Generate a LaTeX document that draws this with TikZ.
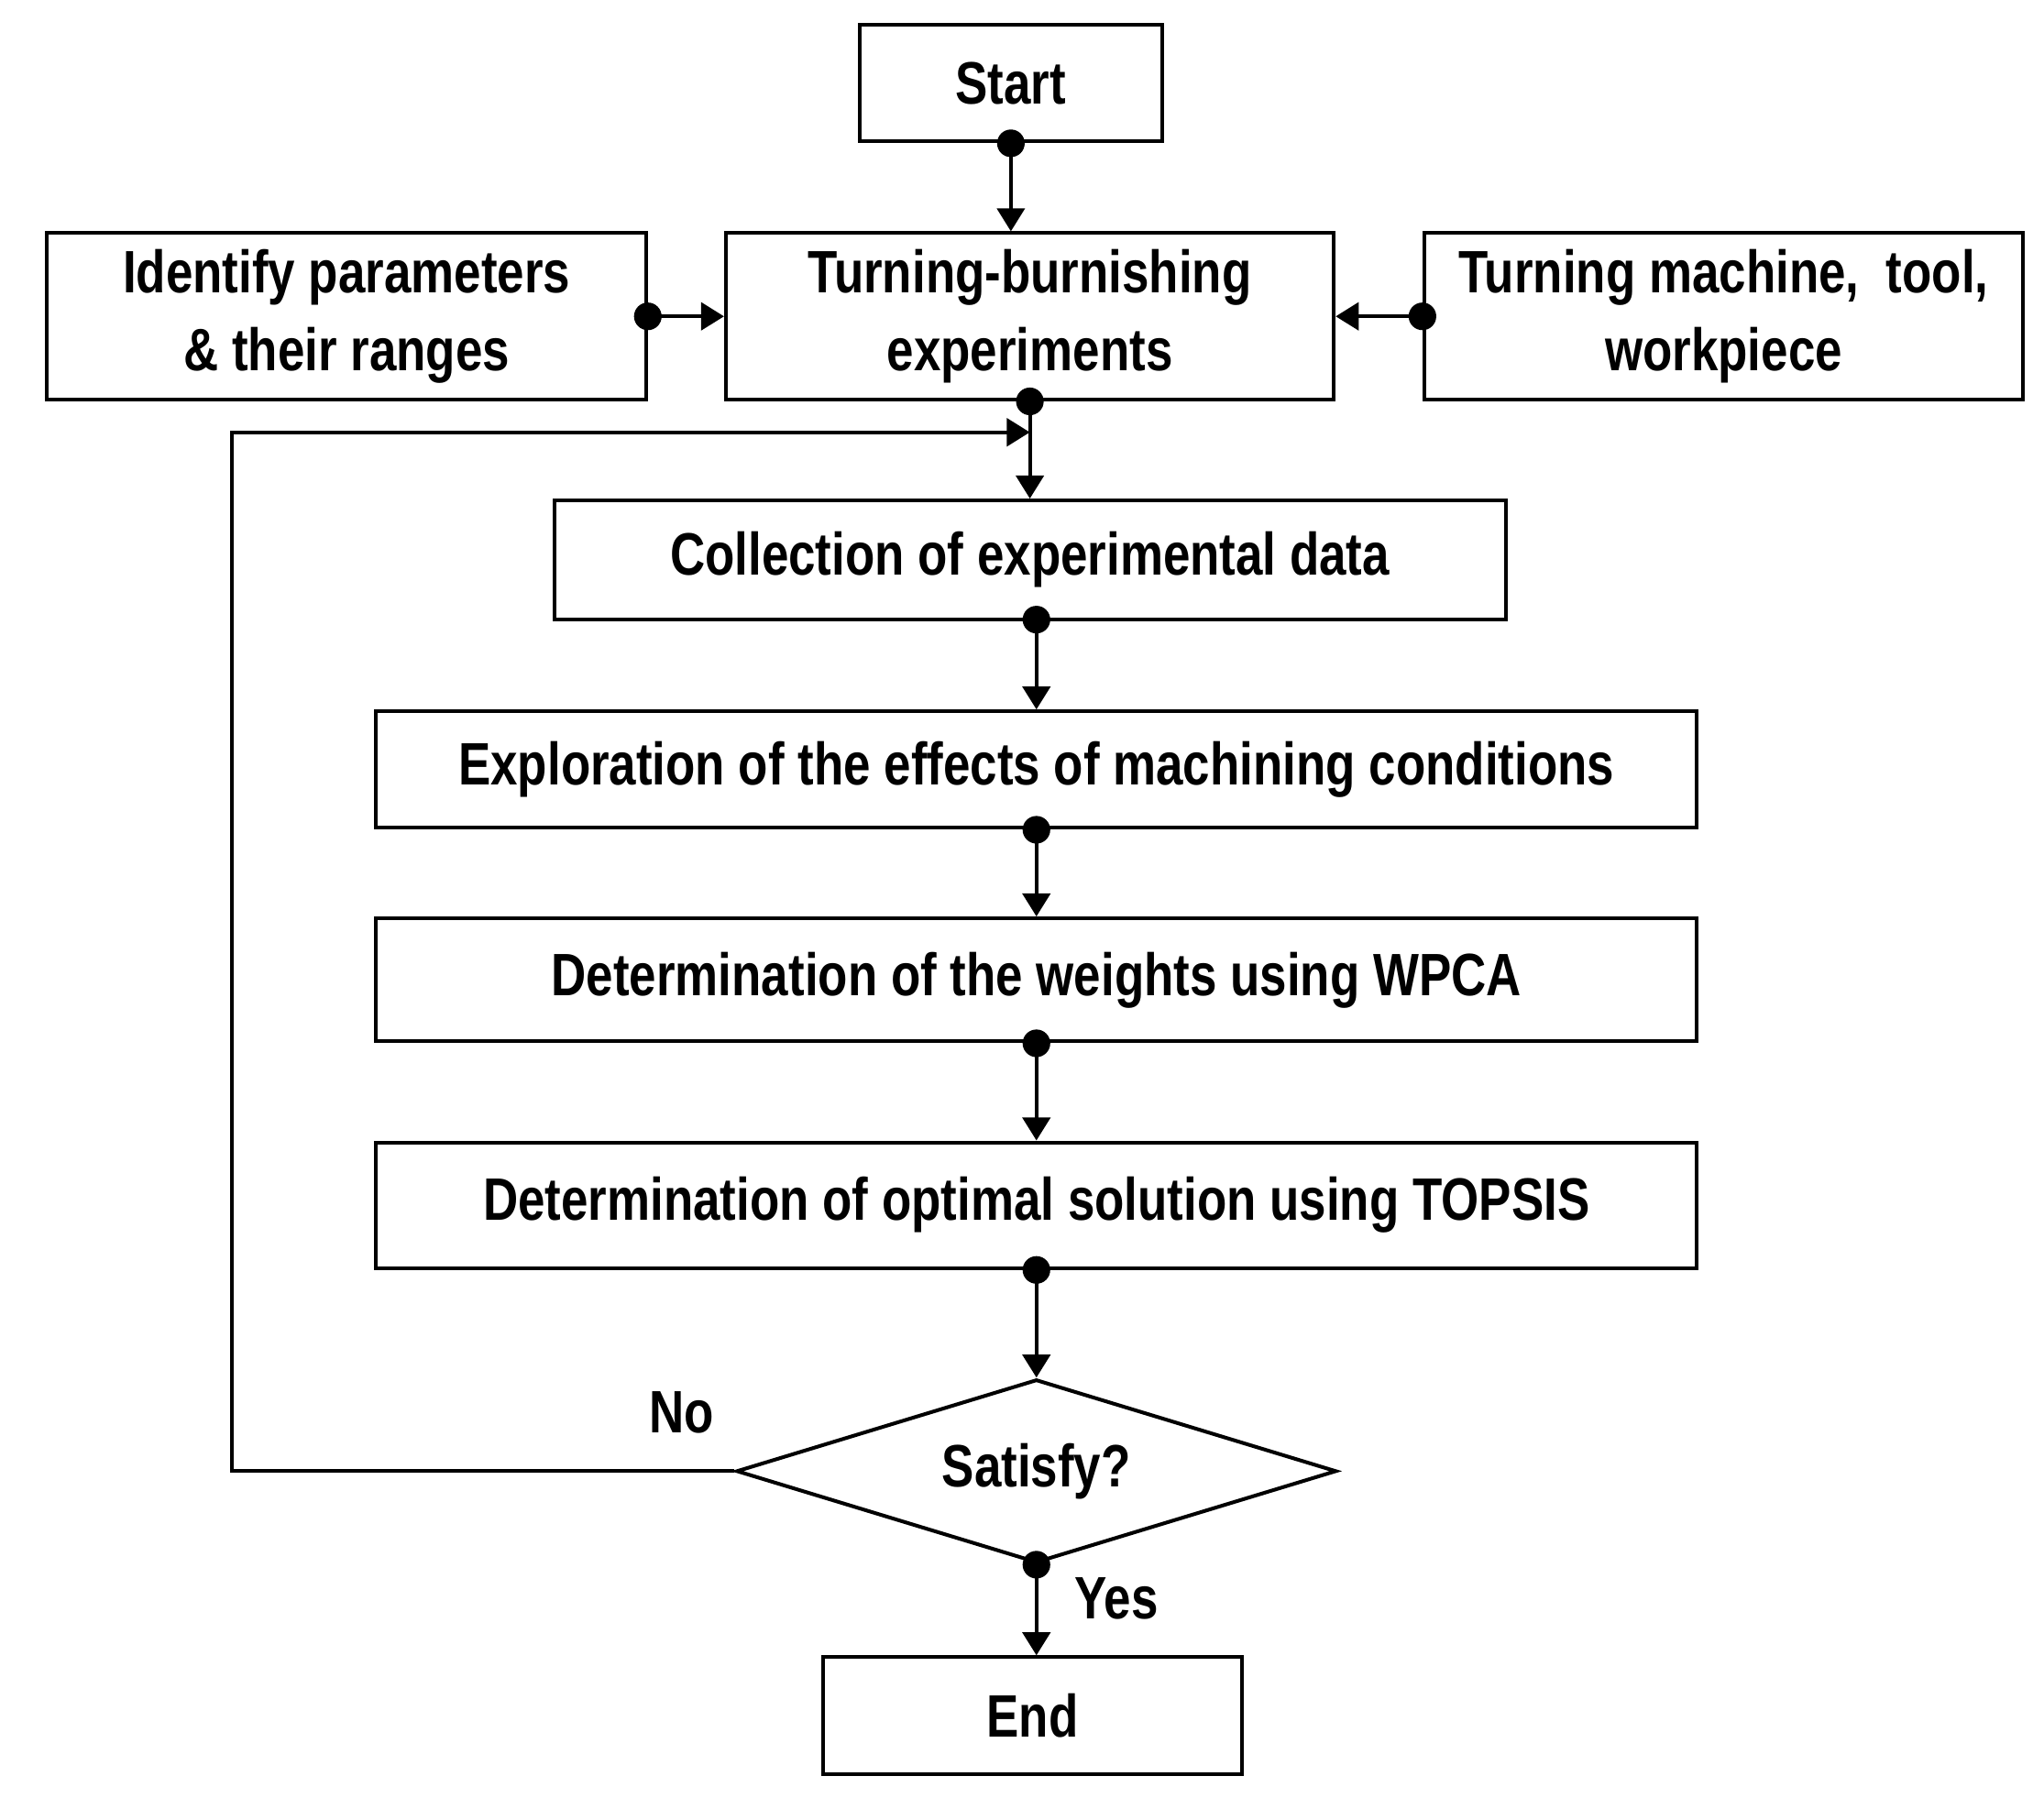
\documentclass[tikz,border=0pt]{standalone}
\usepackage{fontspec}
\setmainfont{Liberation Sans}[FakeStretch=0.81]
\usetikzlibrary{shapes.geometric,arrows.meta}
\begin{document}
\begin{tikzpicture}[x=1cm,y=-1cm,
  box/.style={draw,line width=0.8pt,inner sep=0pt,align=center,font=\fontsize{13}{16}\selectfont\bfseries},
  ar/.style={line width=0.8pt,-{Triangle[length=5pt,width=6pt]}},
  dot/.style={circle,fill,inner sep=0pt,minimum size=6pt}]
\useasboundingbox (0,0) rectangle (15.6,13.72);
\node[box,minimum width=2.31cm,minimum height=0.89cm] (start) at (7.715,0.635) {Start};
\node[box,minimum width=4.57cm,minimum height=1.27cm] (ident) at (2.645,2.415) {Identify parameters\\[1pt]\& their ranges};
\node[box,minimum width=4.64cm,minimum height=1.27cm] (tb) at (7.86,2.415) {Turning-burnishing\\[1pt]experiments};
\node[box,minimum width=4.57cm,minimum height=1.27cm] (mach) at (13.155,2.415) {Turning machine,\ \ tool,\\[1pt]workpiece};
\node[box,minimum width=7.26cm,minimum height=0.91cm] (coll) at (7.86,4.275) {Collection of experimental data};
\node[box,minimum width=10.08cm,minimum height=0.89cm] (expl) at (7.91,5.875) {Exploration of the effects of machining conditions};
\node[box,minimum width=10.08cm,minimum height=0.94cm] (wpca) at (7.91,7.48) {Determination of the weights using WPCA};
\node[box,minimum width=10.08cm,minimum height=0.96cm] (tops) at (7.91,9.2) {Determination of optimal solution using TOPSIS};
\node[box,diamond,aspect=3.27,minimum width=4.58cm,minimum height=1.4cm,inner sep=0pt] (sat) at (7.91,11.23) {Satisfy?};
\node[box,minimum width=3.2cm,minimum height=0.89cm] (end) at (7.88,13.095) {End};
% connectors
\coordinate (s1) at (start.south);
\draw[ar] (s1) -- (start.south |- tb.north);
\node[dot] at (s1) {};
\draw[ar] (ident.east) -- (tb.west); \node[dot] at (ident.east) {};
\draw[ar] (mach.west) -- (tb.east); \node[dot] at (mach.west) {};
\draw[ar] (tb.south) -- (tb.south |- coll.north); \node[dot] at (tb.south) {};
\coordinate (c1) at (7.91,4.73);
\draw[ar] (c1) -- (c1 |- expl.north); \node[dot] at (c1) {};
\coordinate (e1) at (expl.south); \draw[ar] (e1) -- (wpca.north); \node[dot] at (e1) {};
\coordinate (w1) at (wpca.south); \draw[ar] (w1) -- (tops.north); \node[dot] at (w1) {};
\coordinate (t1) at (tops.south); \draw[ar] (t1) -- (sat.north); \node[dot] at (t1) {};
\coordinate (s2) at (sat.south); \draw[ar] (s2) -- (s2 |- end.north); \node[dot] at (s2) {};
\coordinate (lp) at (tb.south |- 0,3.3);
\draw[ar] (sat.west) -- (1.77,11.23) -- (1.77,3.3) -- (lp);
\node[font=\fontsize{13}{16}\selectfont\bfseries] (no) at (5.2,10.78) {No};
\node[font=\fontsize{13}{16}\selectfont\bfseries] (yes) at (8.52,12.2) {Yes};
\end{tikzpicture}
\end{document}
